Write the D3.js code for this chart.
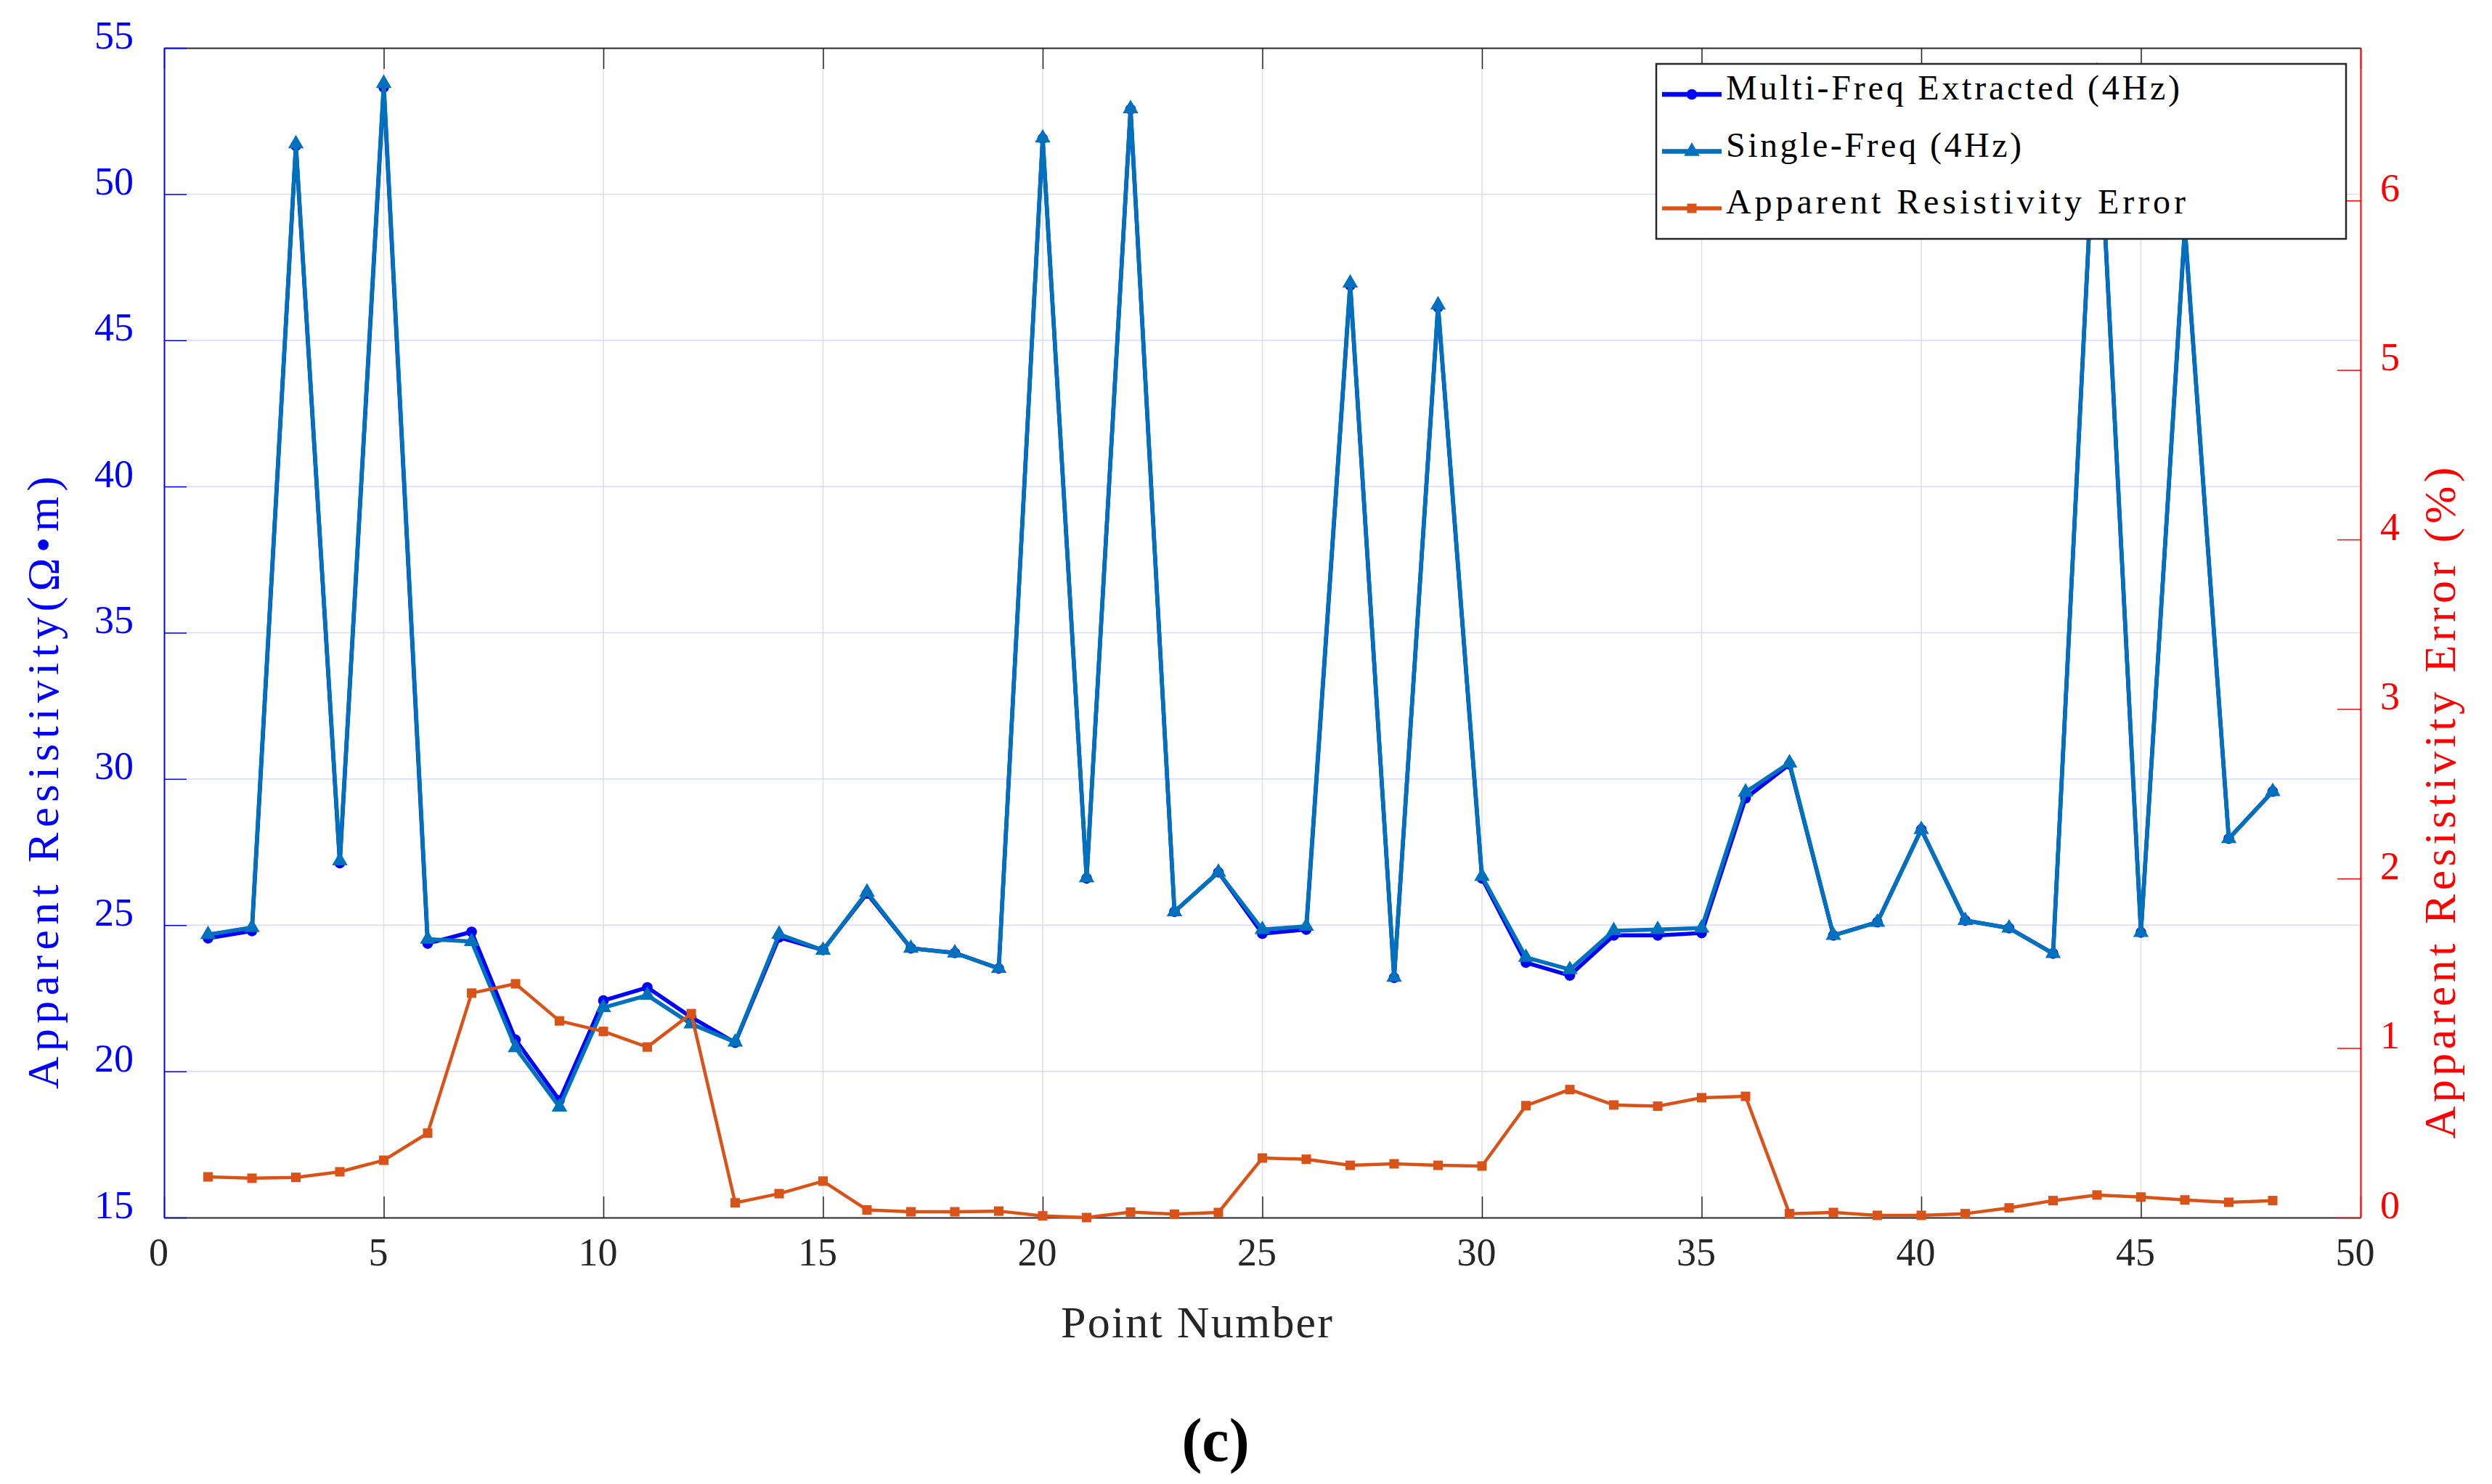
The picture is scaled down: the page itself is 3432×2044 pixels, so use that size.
<!DOCTYPE html>
<html>
<head>
<meta charset="utf-8">
<script src="https://cdn.jsdelivr.net/npm/d3@7"></script>
<style>
    body { margin: 0; background: #fff; }
    text { font-family: 'Liberation Serif', 'Times New Roman', serif; }
</style>
</head>
<body>
<svg id="curve-chart" width="3432" height="2044"></svg>
<script>
// data
const pointNumbers = [1, 2, 3, 4, 5, 6, 7, 8, 9, 10, 11, 12, 13, 14, 15, 16, 17, 18, 19, 20, 21, 22, 23, 24,
    25, 26, 27, 28, 29, 30, 31, 32, 33, 34, 35, 36, 37, 38, 39, 40, 41, 42, 43, 44, 45, 46, 47, 48];
const multiFreq = [24.55, 24.8, 51.65, 27.12, 53.65, 24.37, 24.77, 21.08, 19.01, 22.42, 22.87, 21.85,
    20.98, 24.58, 24.15, 26.08, 24.21, 24.05, 23.52, 51.9, 26.6, 52.9, 25.46, 26.81,
    24.71, 24.85, 46.88, 23.2, 46.13, 26.6, 23.72, 23.28, 24.65, 24.65, 24.73, 29.34,
    30.5, 24.65, 25.1, 28.27, 25.16, 24.9, 24.03, 54.1, 24.75, 48.8, 27.96, 29.57];
const singleFreq = [24.68, 24.92, 51.72, 27.2, 53.79, 24.52, 24.44, 20.81, 18.78, 22.18, 22.6, 21.62,
    21.0, 24.69, 24.14, 26.13, 24.21, 24.05, 23.52, 51.92, 26.62, 52.92, 25.46, 26.81,
    24.85, 24.96, 46.96, 23.22, 46.21, 26.67, 23.9, 23.48, 24.81, 24.85, 24.9, 29.55,
    30.55, 24.65, 25.1, 28.27, 25.16, 24.9, 24.03, 54.2, 24.75, 48.9, 27.96, 29.57];
const errorPct = [0.24, 0.232, 0.237, 0.27, 0.338, 0.498, 1.324, 1.379, 1.16, 1.098, 1.006, 1.203,
    0.087, 0.141, 0.215, 0.045, 0.034, 0.034, 0.038, 0.01, 0.0, 0.032, 0.02, 0.03,
    0.351, 0.344, 0.308, 0.317, 0.308, 0.304, 0.66, 0.755, 0.664, 0.657, 0.707, 0.715,
    0.023, 0.03, 0.013, 0.013, 0.023, 0.057, 0.1, 0.133, 0.121, 0.104, 0.09, 0.1];

const xTicks = [0, 5, 10, 15, 20, 25, 30, 35, 40, 45, 50];
const leftTicks = [15, 20, 25, 30, 35, 40, 45, 50, 55];
const rightTicks = [0, 1, 2, 3, 4, 5, 6];
const seriesNames = ['Multi-Freq Extracted (4Hz)', 'Single-Freq (4Hz)', 'Apparent Resistivity Error'];

const plotLeft = 226, plotRight = 3251, plotTop = 66, plotBottom = 1677;
const width = plotRight - plotLeft, height = plotBottom - plotTop;

const svg = d3.select(document.getElementById('curve-chart'));
const g = svg.append('g').attr('transform', `translate(${plotLeft},${plotTop})`);

const x = d3.scaleLinear().domain([0, 50]).range([0, width]);
const yL = d3.scaleLinear().domain([15, 55]).range([height, 0]);
const yR = d3.scaleLinear().domain([0, 6.9]).range([height, 0]);

// grid
g.append('g').selectAll('line').data(xTicks.slice(1, -1)).join('line')
    .attr('x1', d => x(d)).attr('x2', d => x(d))
    .attr('y1', 0).attr('y2', height)
    .attr('stroke', '#dedede').attr('stroke-width', 1.5);
g.append('g').selectAll('line').data(leftTicks.slice(1, -1)).join('line')
    .attr('x1', 0).attr('x2', width)
    .attr('y1', d => yL(d)).attr('y2', d => yL(d))
    .attr('stroke', '#d9d9ff').attr('stroke-width', 1.5);

// axes
const xAxis = g.append('g').attr('transform', `translate(0,${height})`)
    .call(d3.axisBottom(x).tickValues(xTicks).tickFormat(d => d).tickSize(-29).tickPadding(28).tickSizeOuter(0));
xAxis.selectAll('text').attr('dx', -8).attr('font-size', 54).attr('fill', '#262626');
xAxis.selectAll('line').attr('stroke', '#262626').attr('stroke-width', 1.5);
xAxis.select('.domain').attr('stroke', '#262626').attr('stroke-width', 2);

const topAxis = g.append('g')
    .call(d3.axisTop(x).tickValues(xTicks).tickSize(-29).tickFormat('').tickSizeOuter(0));
topAxis.selectAll('line').attr('stroke', '#262626').attr('stroke-width', 1.5);
topAxis.select('.domain').attr('stroke', '#262626').attr('stroke-width', 2);

const leftAxis = g.append('g')
    .call(d3.axisLeft(yL).tickValues(leftTicks).tickFormat(d => d).tickSize(-31).tickPadding(42).tickSizeOuter(0));
leftAxis.selectAll('text').attr('dy', '0em').attr('font-size', 54).attr('fill', '#0000ff');
leftAxis.selectAll('line').attr('stroke', '#0000ff').attr('stroke-width', 1.5);
leftAxis.select('.domain').attr('stroke', '#0000ff').attr('stroke-width', 2);

const rightAxis = g.append('g').attr('transform', `translate(${width},0)`)
    .call(d3.axisRight(yR).tickValues(rightTicks).tickFormat(d => d).tickSize(-32).tickPadding(27).tickSizeOuter(0));
rightAxis.selectAll('text').attr('dy', '0em').attr('font-size', 54).attr('fill', '#ff0000');
rightAxis.selectAll('line').attr('stroke', '#ff0000').attr('stroke-width', 1.5);
rightAxis.select('.domain').attr('stroke', '#ff0000').attr('stroke-width', 2);

// axis titles
svg.append('text')
    .attr('x', 1648).attr('y', 1842)
    .attr('text-anchor', 'middle').attr('font-size', 62).attr('fill', '#262626')
    .attr('textLength', 374).attr('lengthAdjust', 'spacing')
    .text('Point Number');
svg.append('text')
    .attr('transform', 'translate(80,1078) rotate(-90)')
    .attr('text-anchor', 'middle').attr('font-size', 62).attr('fill', '#0000ff')
    .attr('textLength', 844).attr('lengthAdjust', 'spacing')
    .text('Apparent Resistivity(Ω•m)');
svg.append('text')
    .attr('transform', 'translate(3381,1106) rotate(-90)')
    .attr('text-anchor', 'middle').attr('font-size', 62).attr('fill', '#ff0000')
    .attr('textLength', 925).attr('lengthAdjust', 'spacing')
    .text('Apparent Resistivity Error (%)');
svg.append('text')
    .attr('x', 1674).attr('y', 2012)
    .attr('text-anchor', 'middle').attr('font-size', 84).attr('font-weight', 'bold').attr('fill', '#000')
    .text('(c)');

// series
const series = [
    { values: multiFreq, y: yL, color: '#0000ff', width: 5.5, symbol: d3.symbolCircle, size: 170 },
    { values: singleFreq, y: yL, color: '#0072bd', width: 5.5, symbol: d3.symbolTriangle, size: 200 },
    { values: errorPct, y: yR, color: '#d95319', width: 4.5, symbol: d3.symbolSquare, size: 170 },
];

series.forEach(s => {
    const pts = pointNumbers.map((p, i) => ({ xpoint: p, ypoint: s.values[i] }));
    const Gen = d3.line()
        .x(p => x(p.xpoint))
        .y(p => s.y(p.ypoint));
    g.append('path').datum(pts)
        .attr('fill', 'none')
        .attr('stroke', s.color)
        .attr('stroke-width', s.width)
        .attr('stroke-linejoin', 'round')
        .attr('d', Gen);
    g.append('g').selectAll('path').data(pts).join('path')
        .attr('transform', p => `translate(${x(p.xpoint)},${s.y(p.ypoint)})`)
        .attr('d', d3.symbol().type(s.symbol).size(s.size))
        .attr('fill', s.color);
});

// legend
const legend = svg.append('g');
legend.append('rect')
    .attr('x', 2281).attr('y', 88).attr('width', 950).attr('height', 241)
    .attr('fill', '#fff').attr('stroke', '#262626').attr('stroke-width', 2.5);
const legendTextLen = [625, 407, 633];
series.forEach((s, i) => {
    const cy = 130 + i * 78.5;
    legend.append('line')
        .attr('x1', 2289).attr('x2', 2371).attr('y1', cy).attr('y2', cy)
        .attr('stroke', s.color).attr('stroke-width', s.width + 1);
    legend.append('path')
        .attr('transform', `translate(2330,${cy})`)
        .attr('d', d3.symbol().type(s.symbol).size(s.size))
        .attr('fill', s.color);
    legend.append('text')
        .attr('x', 2377).attr('y', cy + 7)
        .attr('font-size', 48).attr('fill', '#000')
        .attr('textLength', legendTextLen[i]).attr('lengthAdjust', 'spacing')
        .text(seriesNames[i]);
});
</script>
</body>
</html>
